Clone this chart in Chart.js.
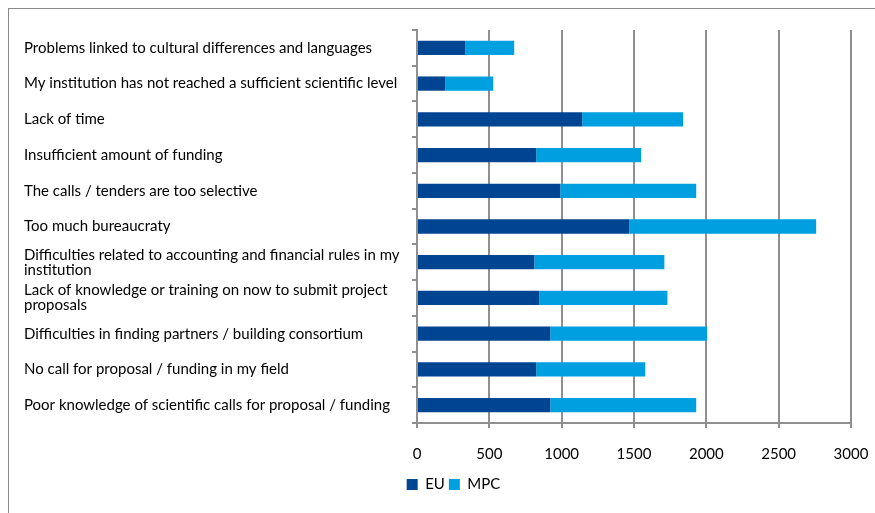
<!DOCTYPE html>
<html><head><meta charset="utf-8">
<script src="https://cdn.jsdelivr.net/npm/chart.js@4.4.0/dist/chart.umd.min.js"></script>
<style>html,body{margin:0;padding:0;background:#fff;overflow:hidden;}</style>
</head><body>
<canvas id="c" width="875" height="513"></canvas>
<script>
const categories = [
  "Problems linked to cultural differences and languages",
  "My institution has not reached a sufficient scientific level",
  "Lack of time",
  "Insufficient amount of funding",
  "The calls / tenders are too selective",
  "Too much bureaucraty",
  ["Difficulties related to accounting and financial rules in my", "institution"],
  ["Lack of knowledge or training on now to submit project", "proposals"],
  "Difficulties in finding partners / building consortium",
  "No call for proposal / funding in my field",
  "Poor knowledge of scientific calls for proposal / funding"
];
const euValues  = [334, 196, 1142, 824, 990, 1467, 811, 845, 921, 824, 921];
const mpcValues = [338, 331,  698, 726, 940, 1292, 899, 886, 1085, 754, 1009];
const xMin = 0, xMax = 3000, xStep = 500;

const FONT = 'Lato, "Liberation Sans", sans-serif';
const GRID = '#8f8f8f';

const frame = {
  id: 'frame',
  beforeDraw(chart) {
    const ctx = chart.ctx;
    ctx.save();
    ctx.fillStyle = '#fff';
    ctx.fillRect(0, 0, chart.width, chart.height);
    ctx.strokeStyle = '#8a8a8a';
    ctx.lineWidth = 1;
    ctx.strokeRect(8.5, 8.5, 900, 600);
    ctx.restore();
  },
  afterLayout(chart) {
    const lg = chart.legend;
    if (lg) { lg.left += 16; lg.right += 16; }
  }
};

new Chart(document.getElementById('c'), {
  type: 'bar',
  data: {
    labels: categories,
    datasets: [
      { label: 'EU', data: euValues, backgroundColor: '#004592', borderWidth: 0 },
      { label: 'MPC', data: mpcValues, backgroundColor: '#009FE0', borderWidth: 0 }
    ]
  },
  options: {
    indexAxis: 'y',
    responsive: false,
    animation: false,
    devicePixelRatio: 1,
    layout: { padding: { left: 24, right: 24, top: 30, bottom: 11 } },
    datasets: { bar: { categoryPercentage: 1, barPercentage: 0.4 } },
    scales: {
      x: {
        stacked: true,
        min: xMin, max: xMax,
        afterFit(scale) { scale.height -= 7; scale.paddingRight = 0; scale.paddingLeft = 0; },
        ticks: { stepSize: xStep, color: '#000', font: { family: FONT, size: 15 }, padding: 17,
                 callback: (v) => String(v) },
        grid: { color: GRID, lineWidth: 2, tickLength: 5, tickColor: GRID },
        border: { color: GRID, width: 2 }
      },
      y: {
        stacked: true,
        afterFit(scale) { scale.width = 393; },
        ticks: { crossAlign: 'far', color: '#000', font: { family: FONT, size: 15, lineHeight: 1.0 }, autoSkip: false },
        grid: { drawOnChartArea: false, drawTicks: true, tickLength: 5, color: GRID, lineWidth: 2 },
        border: { color: GRID, width: 2 }
      }
    },
    plugins: {
      legend: {
        position: 'bottom',
        labels: { boxWidth: 11, boxHeight: 11, color: '#000', font: { family: FONT, size: 15 }, padding: 4 }
      },
      tooltip: { enabled: false }
    }
  },
  plugins: [frame]
});
</script>
</body></html>
